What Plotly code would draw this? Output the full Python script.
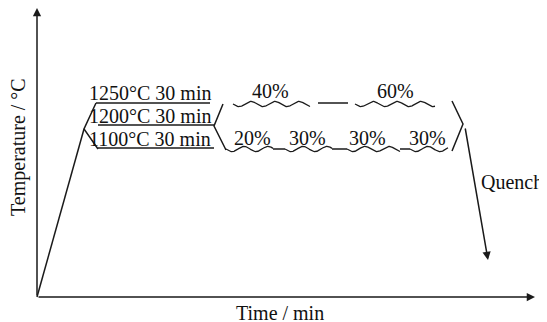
import numpy as np
import plotly.graph_objects as go

W, H = 547, 322
PAGE_OFFSET = 8  # default body margin of the html page
LINE = "#1a1a1a"
FONT = "Liberation Serif"
FS = 20

# ---- schematic geometry (diagram units: x = time, y = temperature level, y axis reversed) ----
origin = (37, 297)
y_axis_tip = (37, 8)
x_axis_tip = (535, 297)

ramp_x = [37, 84]
ramp_y = [297, 129]

bracket_left_x = [96, 84, 98]
bracket_left_y = [103, 129, 149]

hold_labels = ["1250°C 30 min", "1200°C 30 min", "1100°C 30 min"]
hold_y = [103, 125, 148]
hold_x0 = [96, 98, 98]
hold_x1 = [210, 214, 214]
hold_label_y = [93, 116, 139]
hold_label_x = 87

bracket_mid_x = [223, 214, 226]
bracket_mid_y = [104, 126, 150]

upper_labels = ["40%", "60%"]
upper_wave_x0 = [233, 355]
upper_wave_x1 = [310, 435]
upper_label_x = [270, 395]
upper_wave_y = 104
upper_label_y = 91
upper_dash_x = [318, 348]

lower_labels = ["20%", "30%", "30%", "30%"]
lower_wave_x0 = [226, 285, 347, 410]
lower_wave_x1 = [273, 332, 400, 448]
lower_label_x = [252, 307, 367, 427]
lower_wave_y = 149
lower_label_y = 138

bracket_end_x = [452, 463, 452]
bracket_end_y = [101, 124, 151]

quench_tail = (465, 127)
quench_tip = (488, 260)
quench_label = "Quench"
quench_label_xy = (479, 182)

x_title = "Time / min"
x_title_xy = (280, 313)
y_title = "Temperature / °C"
y_title_xy = (18, 147)

WAVE_PERIOD = 24
WAVE_AMP = 2.6

fig = go.Figure()


def add_line(xs, ys, width=1.5):
    fig.add_trace(go.Scatter(x=xs, y=ys, mode="lines",
                             line=dict(color=LINE, width=width),
                             hoverinfo="skip", showlegend=False))


def add_wave(x0, x1, yc):
    xs = np.linspace(x0, x1, 120)
    ys = yc + WAVE_AMP * np.sin(2 * np.pi * (xs - x0) / WAVE_PERIOD)
    add_line(xs, ys, width=1.3)


add_line(ramp_x, ramp_y)
add_line(bracket_left_x, bracket_left_y)
for y, a, b in zip(hold_y, hold_x0, hold_x1):
    add_line([a, b], [y, y])
add_line(bracket_mid_x, bracket_mid_y)

for a, b in zip(upper_wave_x0, upper_wave_x1):
    add_wave(a, b, upper_wave_y)
add_line(upper_dash_x, [upper_wave_y - 1, upper_wave_y - 1])

for a, b in zip(lower_wave_x0, lower_wave_x1):
    add_wave(a, b, lower_wave_y)
for i in range(len(lower_wave_x0) - 1):
    add_line([lower_wave_x1[i], lower_wave_x0[i + 1]], [lower_wave_y, lower_wave_y])

add_line(bracket_end_x, bracket_end_y)

annotations = []


def arrow(tail, tip):
    annotations.append(dict(x=tip[0], y=tip[1], ax=tail[0], ay=tail[1],
                            xref="x", yref="y", axref="x", ayref="y",
                            showarrow=True, arrowhead=2, arrowsize=1.1,
                            arrowwidth=1.5, arrowcolor=LINE, standoff=0, text=""))


arrow(origin, y_axis_tip)
arrow(origin, x_axis_tip)
arrow(quench_tail, quench_tip)


def label(txt, x, y, xanchor="center", angle=0):
    annotations.append(dict(x=x, y=y, xref="x", yref="y", text=txt, showarrow=False,
                            xanchor=xanchor, yanchor="middle", textangle=angle,
                            font=dict(family=FONT, size=FS, color="#111")))


for t, y in zip(hold_labels, hold_label_y):
    label(t, hold_label_x, y, xanchor="left")
for t, x in zip(upper_labels, upper_label_x):
    label(t, x, upper_label_y)
for t, x in zip(lower_labels, lower_label_x):
    label(t, x, lower_label_y)
label(quench_label, quench_label_xy[0], quench_label_xy[1], xanchor="left")
label(x_title, *x_title_xy)
label(y_title, *y_title_xy, angle=-90)

fig.update_layout(
    width=W - PAGE_OFFSET, height=H - PAGE_OFFSET,
    margin=dict(l=0, r=0, t=0, b=0),
    paper_bgcolor="white", plot_bgcolor="white",
    xaxis=dict(range=[PAGE_OFFSET, W], visible=False, fixedrange=True),
    yaxis=dict(range=[H, PAGE_OFFSET], visible=False, fixedrange=True),
    annotations=annotations,
    showlegend=False,
)

fig.write_html("out.html")
